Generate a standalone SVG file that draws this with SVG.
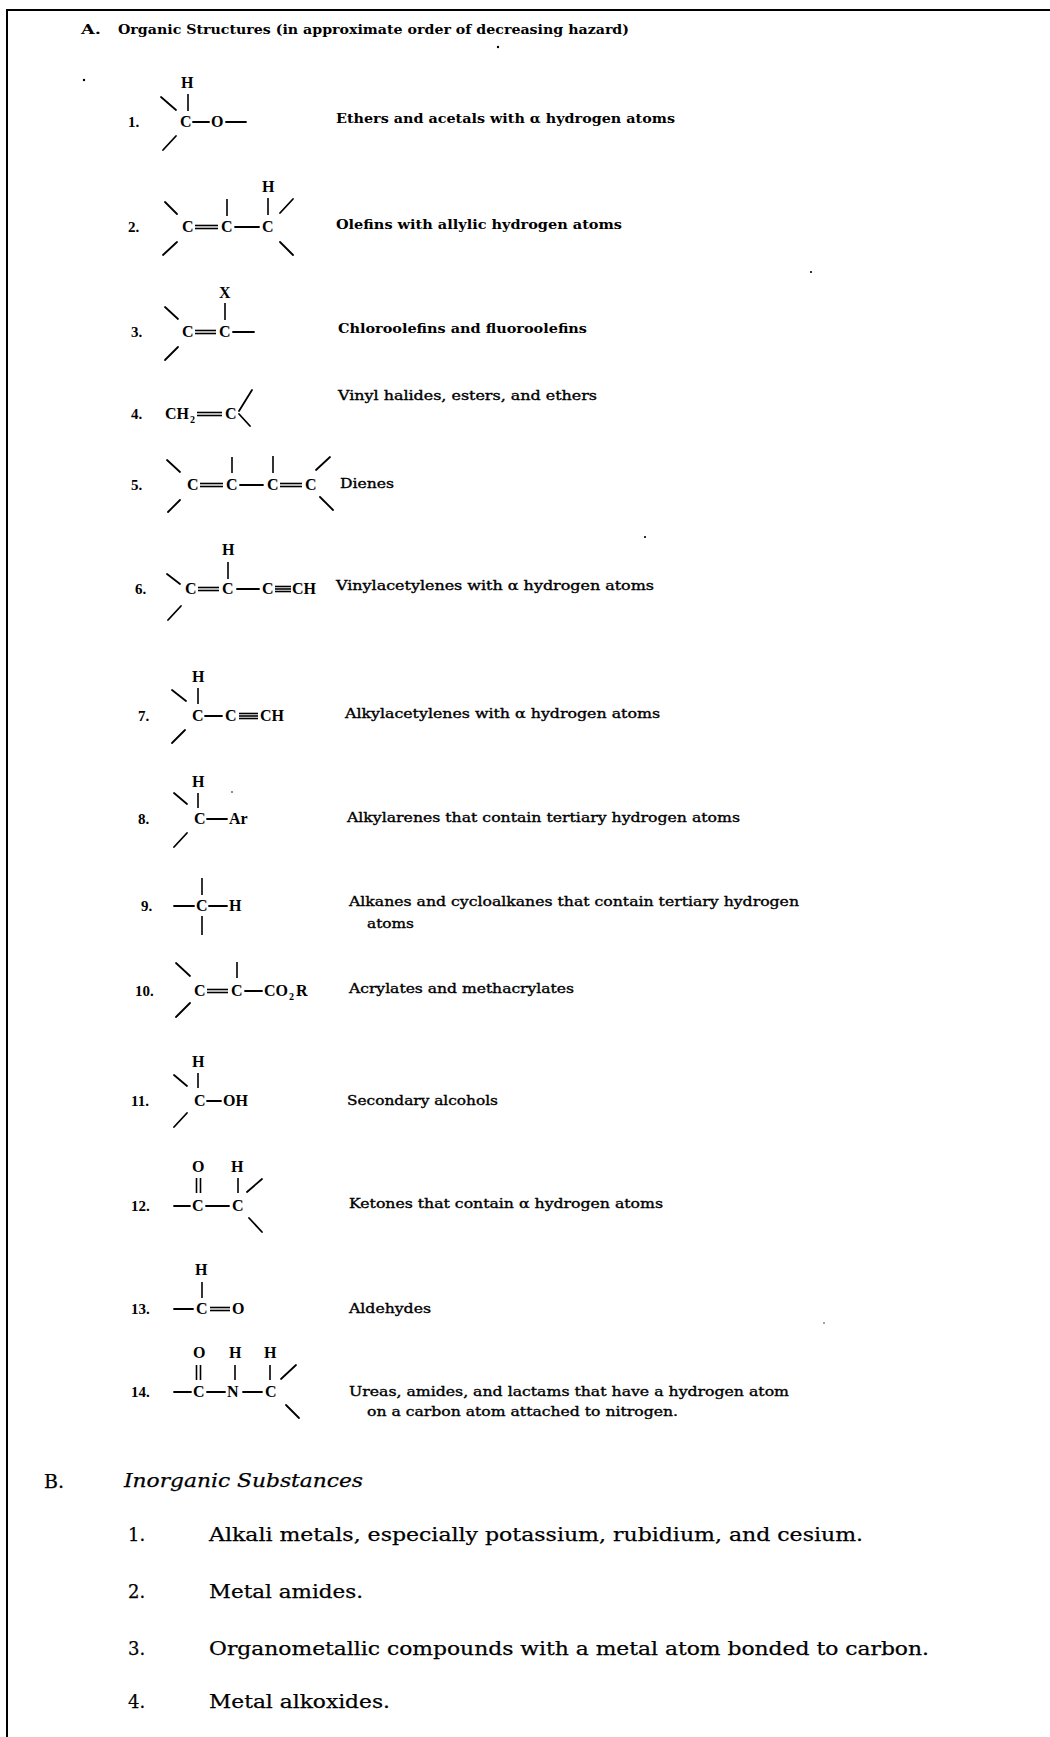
<svg xmlns="http://www.w3.org/2000/svg" width="1050" height="1737" viewBox="0 0 1050 1737">
<style>
.bg{fill:#fff}
.frame{stroke:#000;stroke-width:2;fill:none}
.t{font-family:"DejaVu Serif","Liberation Serif",serif;font-size:12.5px;fill:#000}
.tb{font-weight:bold}
.tm{stroke:#000;stroke-width:0.35}
.at{font-family:"Liberation Serif","DejaVu Serif",serif;font-weight:bold;font-size:16px;fill:#000}
.num{font-family:"Liberation Serif","DejaVu Serif",serif;font-weight:bold;font-size:15px;fill:#000}
.sub{font-size:10px}
.bd{stroke:#000;stroke-width:1.8;stroke-linecap:round;fill:none}
.bv{stroke:#000;stroke-width:1.6;fill:none}
.dbl{stroke:#000;stroke-width:1.6;fill:none}
.b{font-family:"DejaVu Serif","Liberation Serif",serif;font-size:18px;fill:#000;stroke:#000;stroke-width:0.25}
.speck{fill:#000}
</style>
<rect class="bg" x="0" y="0" width="1050" height="1737"/>
<path class="frame" d="M7,1737 V10 H1050"/>

<g id="specks">
<circle class="speck" cx="84" cy="80" r="1.2"/>
<circle class="speck" cx="498" cy="47" r="1.2"/>
<circle class="speck" cx="811" cy="272" r="1.1"/>
<circle class="speck" cx="645" cy="537" r="1.1"/>
<circle class="speck" cx="232" cy="792" r="0.8"/>
<circle class="speck" cx="824" cy="1323" r="0.7"/>
</g>

<g id="title">
<text class="t tb" x="81" y="34" textLength="20" lengthAdjust="spacingAndGlyphs">A.</text>
<text class="t tb" x="118" y="34" textLength="511" lengthAdjust="spacingAndGlyphs">Organic Structures (in approximate order of decreasing hazard)</text>
</g>

<g id="row1">
<text class="num" x="128" y="127">1.</text>
<text class="at" x="181" y="88">H</text>
<line class="bv" x1="188" y1="94" x2="188" y2="111"/>
<line class="bd" x1="161" y1="97" x2="176" y2="110"/>
<line class="bd" x1="163" y1="150" x2="176" y2="136"/>
<text class="at"><tspan x="180" y="127">C</tspan><tspan x="211" y="127">O</tspan></text>
<line class="bd" x1="193" y1="122" x2="209" y2="122"/>
<line class="bd" x1="226" y1="122" x2="246" y2="122"/>
<text class="t tb" x="336" y="123" textLength="339" lengthAdjust="spacingAndGlyphs">Ethers and acetals with α hydrogen atoms</text>
</g>

<g id="row2">
<text class="num" x="128" y="232">2.</text>
<text class="at" x="262" y="192">H</text>
<line class="bd" x1="165" y1="202" x2="177" y2="214"/>
<line class="bd" x1="163" y1="255" x2="177" y2="242"/>
<line class="bv" x1="227" y1="199" x2="227" y2="216"/>
<line class="bv" x1="268" y1="198" x2="268" y2="215"/>
<line class="bd" x1="280" y1="213" x2="293" y2="199"/>
<line class="bd" x1="280" y1="242" x2="293" y2="255"/>
<text class="at"><tspan x="182" y="232">C</tspan><tspan x="221" y="232">C</tspan><tspan x="262" y="232">C</tspan></text>
<line class="dbl" x1="195" y1="225.5" x2="218" y2="225.5"/>
<line class="dbl" x1="195" y1="228.5" x2="218" y2="228.5"/>
<line class="bd" x1="235" y1="227" x2="259" y2="227"/>
<text class="t tb" x="336" y="229" textLength="286" lengthAdjust="spacingAndGlyphs">Olefins with allylic hydrogen atoms</text>
</g>

<g id="row3">
<text class="num" x="131" y="337">3.</text>
<text class="at" x="219" y="298">X</text>
<line class="bv" x1="225" y1="303" x2="225" y2="320"/>
<line class="bd" x1="165" y1="307" x2="178" y2="319"/>
<line class="bd" x1="165" y1="360" x2="178" y2="347"/>
<text class="at"><tspan x="182" y="337">C</tspan><tspan x="219" y="337">C</tspan></text>
<line class="dbl" x1="195" y1="330.5" x2="216" y2="330.5"/>
<line class="dbl" x1="195" y1="333.5" x2="216" y2="333.5"/>
<line class="bd" x1="233" y1="332" x2="254" y2="332"/>
<text class="t tb" x="338" y="333" textLength="249" lengthAdjust="spacingAndGlyphs">Chloroolefins and fluoroolefins</text>
</g>

<g id="row4">
<text class="num" x="131" y="419">4.</text>
<text class="at"><tspan x="165" y="419">CH</tspan><tspan class="sub" x="190" y="423">2</tspan><tspan x="225" y="419">C</tspan></text>
<line class="dbl" x1="197" y1="412.5" x2="222" y2="412.5"/>
<line class="dbl" x1="197" y1="415.5" x2="222" y2="415.5"/>
<line class="bd" x1="239" y1="411" x2="252" y2="390"/>
<line class="bd" x1="239" y1="414" x2="250" y2="426"/>
<text class="t tm" x="338" y="400" textLength="259" lengthAdjust="spacingAndGlyphs">Vinyl halides, esters, and ethers</text>
</g>

<g id="row5">
<text class="num" x="131" y="490">5.</text>
<line class="bd" x1="167" y1="460" x2="180" y2="472"/>
<line class="bd" x1="168" y1="512" x2="180" y2="500"/>
<line class="bv" x1="232" y1="457" x2="232" y2="473"/>
<line class="bv" x1="273" y1="456" x2="273" y2="473"/>
<line class="bd" x1="316" y1="470" x2="330" y2="457"/>
<line class="bd" x1="320" y1="497" x2="333" y2="510"/>
<text class="at"><tspan x="187" y="490">C</tspan><tspan x="226" y="490">C</tspan><tspan x="267" y="490">C</tspan><tspan x="305" y="490">C</tspan></text>
<line class="dbl" x1="200" y1="483.5" x2="223" y2="483.5"/>
<line class="dbl" x1="200" y1="486.5" x2="223" y2="486.5"/>
<line class="bd" x1="240" y1="485" x2="263" y2="485"/>
<line class="dbl" x1="280" y1="483.5" x2="302" y2="483.5"/>
<line class="dbl" x1="280" y1="486.5" x2="302" y2="486.5"/>
<text class="t tm" x="340" y="488" textLength="54" lengthAdjust="spacingAndGlyphs">Dienes</text>
</g>

<g id="row6">
<text class="num" x="135" y="594">6.</text>
<text class="at" x="222" y="555">H</text>
<line class="bv" x1="228" y1="562" x2="228" y2="579"/>
<line class="bd" x1="167" y1="574" x2="180" y2="584"/>
<line class="bd" x1="168" y1="620" x2="181" y2="606"/>
<text class="at"><tspan x="185" y="594">C</tspan><tspan x="222" y="594">C</tspan><tspan x="262" y="594">C</tspan><tspan x="292" y="594">CH</tspan></text>
<line class="dbl" x1="198" y1="587.5" x2="219" y2="587.5"/>
<line class="dbl" x1="198" y1="590.5" x2="219" y2="590.5"/>
<line class="bd" x1="237" y1="589" x2="259" y2="589"/>
<line class="dbl" x1="275" y1="586.5" x2="291" y2="586.5"/>
<line class="dbl" x1="275" y1="589" x2="291" y2="589"/>
<line class="dbl" x1="275" y1="591.5" x2="291" y2="591.5"/>
<text class="t tm" x="336" y="590" textLength="318" lengthAdjust="spacingAndGlyphs">Vinylacetylenes with α hydrogen atoms</text>
</g>

<g id="row7">
<text class="num" x="138" y="721">7.</text>
<text class="at" x="192" y="682">H</text>
<line class="bv" x1="198" y1="688" x2="198" y2="704"/>
<line class="bd" x1="172" y1="690" x2="186" y2="701"/>
<line class="bd" x1="172" y1="743" x2="185" y2="730"/>
<text class="at"><tspan x="192" y="721">C</tspan><tspan x="225" y="721">C</tspan><tspan x="260" y="721">CH</tspan></text>
<line class="bd" x1="205" y1="716" x2="222" y2="716"/>
<line class="dbl" x1="239" y1="713.5" x2="258" y2="713.5"/>
<line class="dbl" x1="239" y1="716" x2="258" y2="716"/>
<line class="dbl" x1="239" y1="718.5" x2="258" y2="718.5"/>
<text class="t tm" x="345" y="718" textLength="315" lengthAdjust="spacingAndGlyphs">Alkylacetylenes with α hydrogen atoms</text>
</g>

<g id="row8">
<text class="num" x="138" y="824">8.</text>
<text class="at" x="192" y="787">H</text>
<line class="bv" x1="198" y1="793" x2="198" y2="808"/>
<line class="bd" x1="174" y1="793" x2="187" y2="804"/>
<line class="bd" x1="174" y1="847" x2="187" y2="833"/>
<text class="at"><tspan x="194" y="824">C</tspan><tspan x="229" y="824">Ar</tspan></text>
<line class="bd" x1="207" y1="819" x2="227" y2="819"/>
<text class="t tm" x="347" y="822" textLength="393" lengthAdjust="spacingAndGlyphs">Alkylarenes that contain tertiary hydrogen atoms</text>
</g>

<g id="row9">
<text class="num" x="141" y="911">9.</text>
<line class="bv" x1="202" y1="878" x2="202" y2="895"/>
<line class="bv" x1="202" y1="916" x2="202" y2="935"/>
<line class="bd" x1="174" y1="906" x2="194" y2="906"/>
<text class="at"><tspan x="196" y="911">C</tspan><tspan x="229" y="911">H</tspan></text>
<line class="bd" x1="209" y1="906" x2="227" y2="906"/>
<text class="t tm" x="349" y="906" textLength="450" lengthAdjust="spacingAndGlyphs">Alkanes and cycloalkanes that contain tertiary hydrogen</text>
<text class="t tm" x="367" y="928" textLength="47" lengthAdjust="spacingAndGlyphs">atoms</text>
</g>

<g id="row10">
<text class="num" x="135" y="996">10.</text>
<line class="bd" x1="176" y1="963" x2="190" y2="976"/>
<line class="bd" x1="176" y1="1017" x2="190" y2="1003"/>
<line class="bv" x1="237" y1="962" x2="237" y2="978"/>
<text class="at"><tspan x="194" y="996">C</tspan><tspan x="231" y="996">C</tspan><tspan x="264" y="996">CO</tspan><tspan class="sub" x="289" y="1000">2</tspan><tspan x="296" y="996">R</tspan></text>
<line class="dbl" x1="207" y1="989.5" x2="228" y2="989.5"/>
<line class="dbl" x1="207" y1="992.5" x2="228" y2="992.5"/>
<line class="bd" x1="245" y1="991" x2="262" y2="991"/>
<text class="t tm" x="349" y="993" textLength="225" lengthAdjust="spacingAndGlyphs">Acrylates and methacrylates</text>
</g>

<g id="row11">
<text class="num" x="131" y="1106">11.</text>
<text class="at" x="192" y="1067">H</text>
<line class="bv" x1="198" y1="1073" x2="198" y2="1088"/>
<line class="bd" x1="174" y1="1075" x2="187" y2="1086"/>
<line class="bd" x1="174" y1="1127" x2="187" y2="1113"/>
<text class="at"><tspan x="194" y="1106">C</tspan><tspan x="223" y="1106">OH</tspan></text>
<line class="bd" x1="207" y1="1101" x2="221" y2="1101"/>
<text class="t tm" x="347" y="1105" textLength="151" lengthAdjust="spacingAndGlyphs">Secondary alcohols</text>
</g>

<g id="row12">
<text class="num" x="131" y="1211">12.</text>
<text class="at"><tspan x="192" y="1172">O</tspan><tspan x="231" y="1172">H</tspan></text>
<line class="bv" x1="196.5" y1="1178" x2="196.5" y2="1193"/>
<line class="bv" x1="200.5" y1="1178" x2="200.5" y2="1193"/>
<line class="bv" x1="238" y1="1178" x2="238" y2="1193"/>
<line class="bd" x1="247" y1="1192" x2="262" y2="1179"/>
<line class="bd" x1="249" y1="1218" x2="262" y2="1232"/>
<line class="bd" x1="174" y1="1206" x2="190" y2="1206"/>
<text class="at"><tspan x="192" y="1211">C</tspan><tspan x="232" y="1211">C</tspan></text>
<line class="bd" x1="206" y1="1206" x2="229" y2="1206"/>
<text class="t tm" x="349" y="1208" textLength="314" lengthAdjust="spacingAndGlyphs">Ketones that contain α hydrogen atoms</text>
</g>

<g id="row13">
<text class="num" x="131" y="1314">13.</text>
<text class="at" x="195" y="1275">H</text>
<line class="bv" x1="202" y1="1282" x2="202" y2="1298"/>
<line class="bd" x1="174" y1="1309" x2="193" y2="1309"/>
<text class="at"><tspan x="196" y="1314">C</tspan><tspan x="232" y="1314">O</tspan></text>
<line class="dbl" x1="210" y1="1307.5" x2="230" y2="1307.5"/>
<line class="dbl" x1="210" y1="1310.5" x2="230" y2="1310.5"/>
<text class="t tm" x="349" y="1313" textLength="82" lengthAdjust="spacingAndGlyphs">Aldehydes</text>
</g>

<g id="row14">
<text class="num" x="131" y="1397">14.</text>
<text class="at"><tspan x="193" y="1358">O</tspan><tspan x="229" y="1358">H</tspan><tspan x="264" y="1358">H</tspan></text>
<line class="bv" x1="196.5" y1="1365" x2="196.5" y2="1380"/>
<line class="bv" x1="200.5" y1="1365" x2="200.5" y2="1380"/>
<line class="bv" x1="235" y1="1365" x2="235" y2="1380"/>
<line class="bv" x1="270" y1="1365" x2="270" y2="1380"/>
<line class="bd" x1="281" y1="1379" x2="296" y2="1365"/>
<line class="bd" x1="286" y1="1405" x2="299" y2="1418"/>
<line class="bd" x1="174" y1="1392" x2="191" y2="1392"/>
<text class="at"><tspan x="193" y="1397">C</tspan><tspan x="227" y="1397">N</tspan><tspan x="265" y="1397">C</tspan></text>
<line class="bd" x1="207" y1="1392" x2="225" y2="1392"/>
<line class="bd" x1="243" y1="1392" x2="262" y2="1392"/>
<text class="t tm" x="349" y="1396" textLength="440" lengthAdjust="spacingAndGlyphs">Ureas, amides, and lactams that have a hydrogen atom</text>
<text class="t tm" x="367" y="1416" textLength="311" lengthAdjust="spacingAndGlyphs">on a carbon atom attached to nitrogen.</text>
</g>

<g id="sectionB">
<text class="b" x="44" y="1488" textLength="20" lengthAdjust="spacingAndGlyphs">B.</text>
<text class="b" x="124" y="1487" font-style="italic" textLength="239" lengthAdjust="spacingAndGlyphs">Inorganic Substances</text>
</g>
<g id="b1">
<text class="b" x="128" y="1541">1.</text>
<text class="b" x="209" y="1541" textLength="654" lengthAdjust="spacingAndGlyphs">Alkali metals, especially potassium, rubidium, and cesium.</text>
</g>
<g id="b2">
<text class="b" x="128" y="1598">2.</text>
<text class="b" x="209" y="1598" textLength="154" lengthAdjust="spacingAndGlyphs">Metal amides.</text>
</g>
<g id="b3">
<text class="b" x="128" y="1655">3.</text>
<text class="b" x="209" y="1655" textLength="720" lengthAdjust="spacingAndGlyphs">Organometallic compounds with a metal atom bonded to carbon.</text>
</g>
<g id="b4">
<text class="b" x="128" y="1708">4.</text>
<text class="b" x="209" y="1708" textLength="181" lengthAdjust="spacingAndGlyphs">Metal alkoxides.</text>
</g>
</svg>
